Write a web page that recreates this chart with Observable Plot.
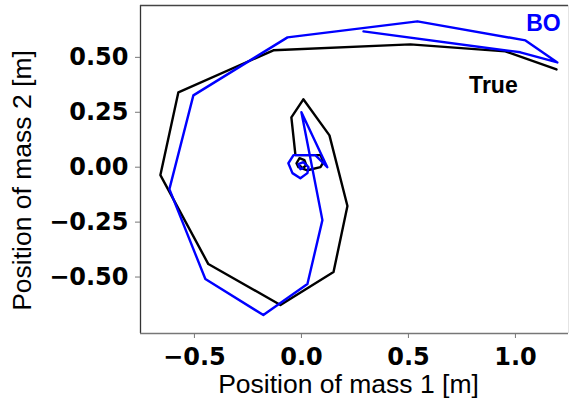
<!DOCTYPE html>
<html>
<head>
<meta charset="utf-8">
<script src="https://cdn.jsdelivr.net/npm/d3@7"></script>
<script src="https://cdn.jsdelivr.net/npm/@observablehq/plot@0.6"></script>
<style>
  html, body { margin: 0; padding: 0; background: #fff; }
  #chart svg { display: block; }
</style>
</head>
<body>
<div id="chart"></div>
<script>
// True trajectory (position of mass 1, position of mass 2)
const trueX = [1.192, 0.953, 0.509, -0.131, -0.575, -0.659, -0.435, -0.098, 0.150, 0.215, 0.131, 0.009, -0.047, -0.028, 0.089, 0.103, 0.089, 0.028, -0.014, -0.023, -0.009, 0.014, 0.023, 0.005, -0.005];
const trueY = [0.445, 0.527, 0.559, 0.532, 0.341, -0.036, -0.441, -0.627, -0.477, -0.177, 0.145, 0.309, 0.227, 0.055, 0.055, 0.023, 0.000, -0.014, 0.000, 0.018, 0.041, 0.032, 0.009, -0.005, 0.005];
// BO trajectory
const boX = [0.290, 1.023, 1.196, 1.047, 0.542, -0.065, -0.505, -0.617, -0.449, -0.178, 0.028, 0.098, 0.000, 0.121, 0.065, -0.037, -0.061, -0.042, -0.005, 0.028, 0.033, 0.009, -0.014, -0.005, 0.005];
const boY = [0.618, 0.523, 0.477, 0.577, 0.664, 0.591, 0.327, -0.100, -0.509, -0.673, -0.532, -0.241, 0.250, 0.000, 0.055, 0.055, 0.018, -0.027, -0.050, -0.027, 0.000, 0.023, 0.014, -0.009, -0.005];

const xTicks = [-0.5, 0.0, 0.5, 1.0];
const yTicks = [-0.5, -0.25, 0.0, 0.25, 0.5];
const xDomain = [-0.752, 1.248];
const yDomain = [-0.757, 0.736];

const seriesLabels = [
  {name: "BO", x: 1.131, y: 0.655, color: "#0000ff"},
  {name: "True", x: 0.897, y: 0.373, color: "#000000"}
];

const trueData = trueX.map((x, i) => ({x, y: trueY[i]}));
const boData = boX.map((x, i) => ({x, y: boY[i]}));

const chart = Plot.plot({
  width: 574,
  height: 405,
  marginLeft: 140,
  marginRight: 6,
  marginTop: 5,
  marginBottom: 72,
  x: {domain: xDomain},
  y: {domain: yDomain},
  marks: [
    Plot.line(trueData, {x: "x", y: "y", stroke: "#000", strokeWidth: 2.4, curve: "linear"}),
    Plot.line(boData, {x: "x", y: "y", stroke: "#0000ff", strokeWidth: 2.4, curve: "linear"}),
    Plot.ruleX([xDomain[0]], {stroke: "#333", strokeWidth: 1.3}),
    Plot.ruleX([xDomain[1]], {stroke: "#e4e4e4", strokeWidth: 1}),
    Plot.ruleY([yDomain[1]], {stroke: "#444", strokeWidth: 1.3}),
    Plot.ruleY([yDomain[0]], {stroke: "#777", strokeWidth: 1.5}),
    Plot.axisX(xTicks, {
      tickSize: 5, tickPadding: 9, stroke: "#777", fill: "#000",
      fontSize: 24, fontWeight: "bold", fontFamily: "DejaVu Sans",
      tickFormat: d3.format(".1f"), label: null
    }),
    Plot.axisY(yTicks, {
      tickSize: 5, tickPadding: 7, stroke: "#777", fill: "#000",
      fontSize: 24, fontWeight: "bold", fontFamily: "DejaVu Sans",
      tickFormat: d3.format(".2f"), label: null
    }),
    Plot.text(seriesLabels, {
      x: "x", y: "y", text: "name", fill: "color",
      fontSize: 23, fontWeight: "bold", fontFamily: "Liberation Sans"
    }),
    Plot.text(["Position of mass 1 [m]"], {
      frameAnchor: "bottom", lineAnchor: "middle", textAnchor: "middle",
      dx: -6, dy: 51, fontSize: 26.5, fontFamily: "Liberation Sans", fill: "#000"
    }),
    Plot.text(["Position of mass 2 [m]"], {
      frameAnchor: "left", lineAnchor: "middle", textAnchor: "middle",
      dx: -118, dy: 11, rotate: -90, fontSize: 26.5, fontFamily: "Liberation Sans", fill: "#000"
    })
  ]
});
document.getElementById("chart").appendChild(chart);
</script>
</body>
</html>
